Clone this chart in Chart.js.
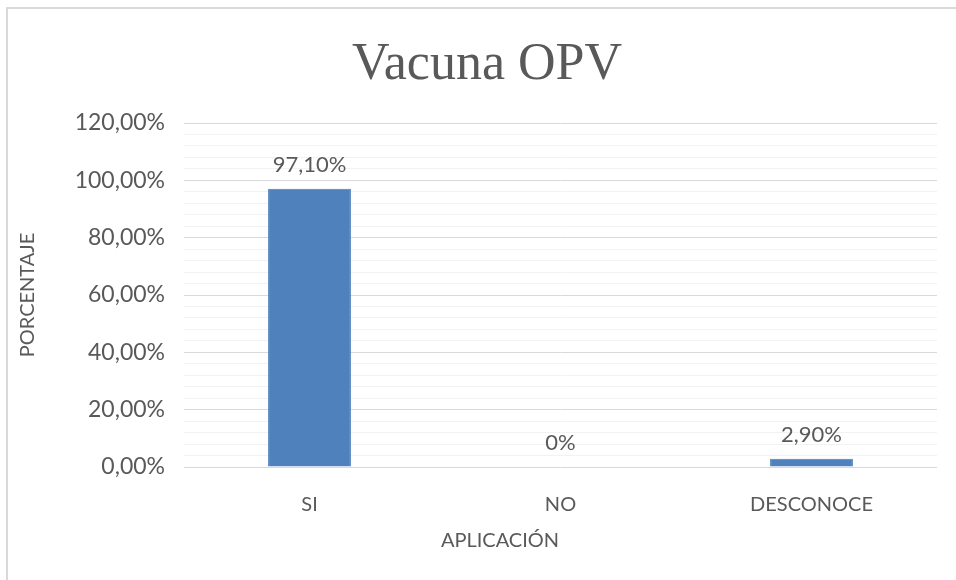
<!DOCTYPE html>
<html>
<head>
<meta charset="utf-8">
<script src="https://cdn.jsdelivr.net/npm/chart.js@4.4.0/dist/chart.umd.min.js"></script>
<style>
    body { margin: 0; background: #fff; }
    #marco { position: relative; width: 956px; height: 580px; overflow: hidden; }
    #borde { position: absolute; left: 6px; top: 7px; width: 1000px; height: 1000px; border: 2px solid #d9d9d9; }
    canvas { position: absolute; left: 0; top: 0; }
</style>
</head>
<body>
<div id="marco">
    <div id="borde"></div>
    <canvas id="grafico" width="956" height="580"></canvas>
</div>
<script>
const categorias = ["SI", "NO", "DESCONOCE"];
const porcentajes = [97.1, 0, 2.9];
const etiquetasDatos = ["97,10%", "0%", "2,90%"];
const titulo = "Vacuna OPV";
const tituloX = "APLICACIÓN";
const tituloY = "PORCENTAJE";

const gris = "#595959";
const fuente = "Lato";

// titulo, etiquetas sobre las barras y titulo del eje X (desplazado como en Excel)
const etiquetas = {
    id: "etiquetas",
    afterDatasetsDraw(chart) {
        const ctx = chart.ctx;
        const meta = chart.getDatasetMeta(0);
        ctx.save();
        ctx.fillStyle = gris;
        ctx.textAlign = "center";
        ctx.textBaseline = "alphabetic";
        ctx.font = "52px 'Liberation Serif'";
        ctx.fillText(titulo, 487, 79);
        ctx.font = "22px " + fuente;
        meta.data.forEach((barra, i) => {
            ctx.fillText(etiquetasDatos[i], barra.x, barra.y - 17);
        });
        ctx.font = "20px " + fuente;
        ctx.fillText(tituloX, 500, 547);
        ctx.restore();
    }
};

new Chart(document.getElementById("grafico"), {
    type: "bar",
    data: {
        labels: categorias,
        datasets: [{
            data: porcentajes,
            backgroundColor: "#4f81bd",
            borderColor: "#4a7ebb",
            borderWidth: 1,
            barPercentage: 0.33,
            categoryPercentage: 1
        }]
    },
    options: {
        responsive: false,
        animation: false,
        layout: { padding: { left: 16, right: 19, top: 123, bottom: 0 } },
        plugins: {
            legend: { display: false },
            tooltip: { enabled: false },
            title: { display: false }
        },
        scales: {
            x: {
                grid: { display: false },
                border: { display: false },
                ticks: { color: gris, font: { family: fuente, size: 20 }, padding: 18 },
                afterFit(escala) { escala.height = 113; }
            },
            y: {
                min: 0,
                max: 120,
                border: { display: false },
                grid: {
                    drawTicks: false,
                    color: ctx => (ctx.tick && ctx.tick.value % 20 === 0) ? "#d9d9d9" : "#f2f2f2"
                },
                ticks: {
                    stepSize: 4,
                    autoSkip: false,
                    padding: 19,
                    color: gris,
                    font: { family: fuente, size: 23 },
                    callback: v => v % 20 === 0 ? v + ",00%" : ""
                },
                title: {
                    display: true,
                    text: tituloY,
                    color: gris,
                    font: { family: fuente, size: 20 },
                    padding: 0
                },
                afterFit(escala) { escala.width = 168; }
            }
        }
    },
    plugins: [etiquetas]
});
</script>
</body>
</html>
